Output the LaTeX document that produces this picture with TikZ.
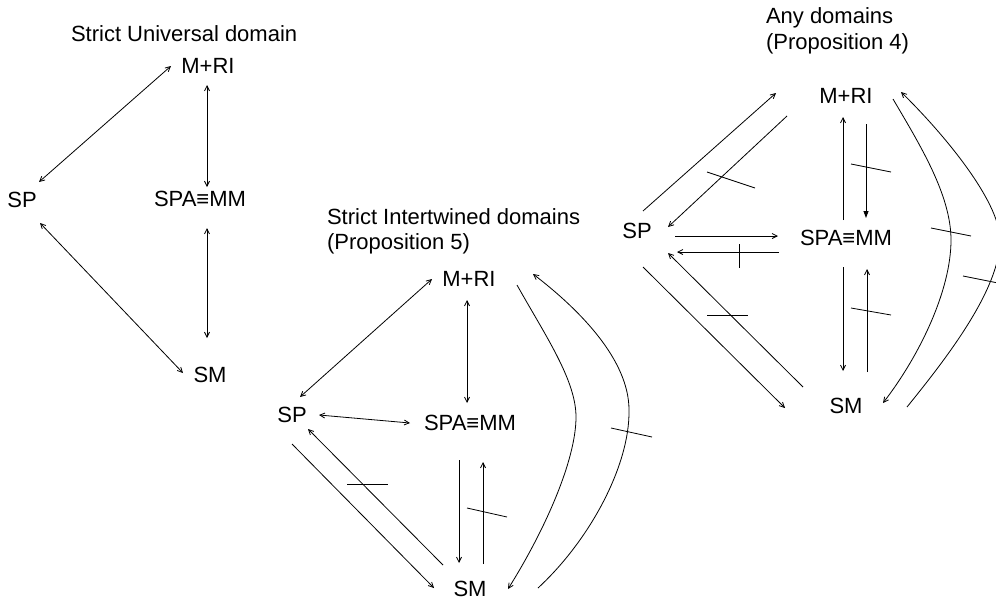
\documentclass[tikz,border=0pt]{standalone}
\usepackage{fontspec}
\setmainfont{Liberation Sans}
\usetikzlibrary{arrows.meta,calc}
\tikzset{
  lbl/.style={inner sep=0pt, outer sep=0pt, font=\fontsize{22}{25.5}\selectfont},
  ttl/.style={inner sep=0pt, outer sep=0pt, anchor=base west, align=left, font=\fontsize{22}{25.5}\selectfont},
  conn/.style={line width=0.8pt},
  tick/.style={line width=0.8pt},
  >={Straight Barb[length=5pt,width=5pt]},
  fat/.style={-{Triangle[length=7pt,width=5pt]}}
}
\begin{document}
\begin{tikzpicture}[x=1pt,y=-1pt]
\useasboundingbox (0,0) rectangle (996,603);
\clip (0,0) rectangle (996,603);
\fill[white] (0,0) rectangle (996,603);

% ---------- Diagram 1 ----------
\node[ttl] (t1) at (71,41.5) {Strict Universal domain};
\node[lbl] (mri1) at (208,66) {M+RI};
\node[lbl] (sp1) at (22,200) {SP};
\node[lbl] (spa1) at (200,199) {SPA≡MM};
\node[lbl] (sm1) at (210,375) {SM};
\draw[conn,<->] ($(sp1)+(17,-18)$) -- ($(mri1)+(-37,0)$);
\draw[conn,<->] ($(mri1)+(-1,19)$) -- ($(spa1)+(7,-12)$);
\draw[conn,<->] ($(spa1)+(7,29)$) -- ($(sm1)+(-3,-37)$);
\draw[conn,<->] ($(sp1)+(18,23)$) -- ($(sm1)+(-27,-2)$);

% ---------- Diagram 2 ----------
\node[ttl] (t2) at (327,249.5) {Strict Intertwined domains\\(Proposition 5)};
\node[lbl] (mri2) at (469,279) {M+RI};
\node[lbl] (sp2) at (292,415) {SP};
\node[lbl] (spa2) at (470,423) {SPA≡MM};
\node[lbl] (sm2) at (470,589) {SM};
\draw[conn,<->] ($(sp2)+(8,-18)$) -- ($(mri2)+(-37,0)$);
\draw[conn,<->] ($(mri2)+(-2,21)$) -- ($(spa2)+(-3,-20)$);
\draw[conn,<->] ($(sp2)+(27,0)$) -- ($(spa2)+(-60,0)$);
\draw[conn,->] ($(spa2)+(-11,37)$) -- ($(sm2)+(-11,-26)$);
\draw[conn,->] ($(sm2)+(13,-25)$) -- ($(spa2)+(13,39)$);
\draw[tick] (467,508) -- (507,517);
\draw[conn,->] ($(sp2)+(0,29)$) -- ($(sm2)+(-36,-1)$);
\draw[conn,->] ($(sm2)+(-27,-24)$) -- ($(sp2)+(16,14)$);
\draw[tick] (347,484) -- (388,484);
\draw[conn,->] ($(mri2)+(48,6)$) .. controls (545,335) and (576,380) .. (576,417)
  .. controls (576,460) and (545,530) .. ($(sm2)+(38,0)$);
\draw[conn,->] ($(sm2)+(68,-1)$) .. controls (590,540) and (630,465) .. (629,410)
  .. controls (629,360) and (580,310) .. ($(mri2)+(64,-5)$);
\draw[tick] (611,428) -- (652,437);

% ---------- Diagram 3 ----------
\node[ttl] (t3) at (766,49) {Any domains\\(Proposition 4)};
\node[lbl] (mri3) at (846,96) {M+RI};
\node[lbl] (sp3) at (637,231) {SP};
\node[lbl] (spa3) at (846,238) {SPA≡MM};
\node[lbl] (sm3) at (846,406) {SM};
\draw[conn,->] ($(sp3)+(6,-20)$) -- ($(mri3)+(-70,-3)$);
\draw[conn,->] ($(mri3)+(-59,20)$) -- ($(sp3)+(31,-4)$);
\draw[tick] (707,172) -- (755,188);
\draw[conn,->] ($(spa3)+(-3,-18)$) -- ($(mri3)+(-3,21)$);
\draw[conn,fat] ($(mri3)+(20,28)$) -- ($(spa3)+(20,-20)$);
\draw[tick] (851,164) -- (891,172);
\draw[conn,->] ($(sp3)+(38,5)$) -- ($(spa3)+(-68,-2)$);
\draw[conn,->] ($(spa3)+(-67,14)$) -- ($(sp3)+(40,21)$);
\draw[tick] (739,244) -- (739,268);
\draw[conn,->] ($(spa3)+(-3,29)$) -- ($(sm3)+(-3,-35)$);
\draw[conn,->] ($(sm3)+(21,-34)$) -- ($(spa3)+(21,31)$);
\draw[tick] (851,308) -- (891,315);
\draw[conn,->] ($(sp3)+(6,36)$) -- ($(sm3)+(-61,2)$);
\draw[conn,->] ($(sm3)+(-43,-19)$) -- ($(sp3)+(31,22)$);
\draw[tick] (707,315) -- (748,315);
\draw[conn,->] ($(mri3)+(47,3)$) .. controls (920,145) and (951,195) .. (951,240)
  .. controls (951,290) and (920,355) .. ($(sm3)+(37,-3)$);
\draw[tick] (931,228) -- (971,236);
\draw[conn,->] ($(sm3)+(61,1)$) .. controls (945,360) and (1000,290) .. (1000,240)
  .. controls (1000,200) and (940,130) .. ($(mri3)+(55,-4)$);
\draw[tick] (963,276) -- (1003,284);
\end{tikzpicture}
\end{document}
